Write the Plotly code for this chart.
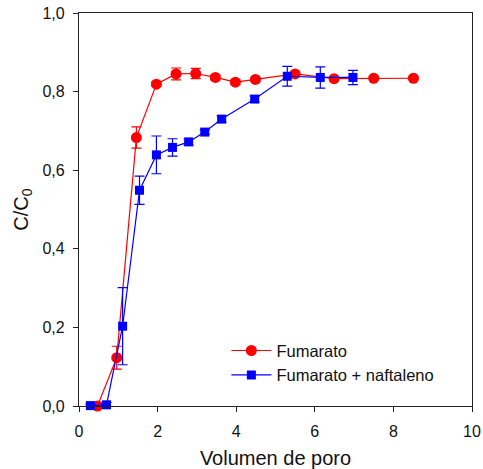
import plotly.graph_objects as go

# Fumarato breakthrough curve
fum_x = [0.47, 0.96, 1.46, 1.97, 2.47, 2.97, 3.47, 3.98, 4.49, 5.50, 6.49, 7.50, 8.51]
fum_y = [0.000, 0.123, 0.683, 0.819, 0.845, 0.846, 0.836, 0.824, 0.831, 0.845, 0.833, 0.834, 0.834]
fum_err = [0.004, 0.029, 0.027, 0.006, 0.015, 0.013, 0.006, 0.006, 0.005, 0.006, 0.005, 0.004, 0.004]

# Fumarato + naftaleno breakthrough curve
naf_x = [0.29, 0.70, 1.11, 1.54, 1.97, 2.38, 2.79, 3.20, 3.63, 4.47, 5.30, 6.14, 6.97]
naf_y = [0.001, 0.003, 0.203, 0.549, 0.639, 0.658, 0.672, 0.697, 0.730, 0.781, 0.839, 0.836, 0.836]
naf_err = [0.004, 0.006, 0.098, 0.036, 0.048, 0.022, 0.008, 0.006, 0.008, 0.008, 0.025, 0.027, 0.018]

x_ticks = [0, 2, 4, 6, 8, 10]
y_ticks = [0.0, 0.2, 0.4, 0.6, 0.8, 1.0]

fig = go.Figure()
fig.add_trace(go.Scatter(
    x=fum_x, y=fum_y, name="Fumarato", mode="lines+markers",
    line=dict(color="#ff0000", width=1.2),
    marker=dict(symbol="circle", size=11, color="#ff0000"),
    error_y=dict(type="data", array=fum_err, color="#ff0000", thickness=1.2, width=5),
    cliponaxis=False,
))
fig.add_trace(go.Scatter(
    x=naf_x, y=naf_y, name="Fumarato + naftaleno", mode="lines+markers",
    line=dict(color="#0000ff", width=1.2),
    marker=dict(symbol="square", size=9, color="#0000ff"),
    error_y=dict(type="data", array=naf_err, color="#0000ff", thickness=1.2, width=5),
    cliponaxis=False,
))

axis_common = dict(
    showgrid=False, zeroline=False, showline=True, linecolor="#222222", linewidth=1.3,
    mirror=True, ticks="outside", ticklen=5, tickwidth=1.2, tickcolor="#222222",
    automargin=False,
    tickfont=dict(family="Liberation Sans, Arial, sans-serif", size=16, color="#111111"),
)

fig.update_layout(
    width=483, height=469,
    margin=dict(l=79, r=11, t=13, b=63),
    paper_bgcolor="white", plot_bgcolor="white",
    separators=",.",
    font=dict(family="Liberation Sans, Arial, sans-serif", color="#111111"),
    xaxis=dict(axis_common, range=[0, 10], tickvals=x_ticks, ticklabelstandoff=6,
               title=dict(text="Volumen de poro", font=dict(size=20))),
    yaxis=dict(axis_common, range=[0, 1], tickvals=y_ticks, tickformat=".1f",
               ticklabelstandoff=5,
               title=dict(text="C/C<sub>0</sub>", font=dict(size=20), standoff=8)),
    legend=dict(x=0.375, y=0.11, xanchor="left", yanchor="middle",
                bgcolor="rgba(0,0,0,0)", font=dict(size=16.5), tracegroupgap=0,
                itemwidth=40),
    showlegend=True,
)

fig.write_html("out.html")
